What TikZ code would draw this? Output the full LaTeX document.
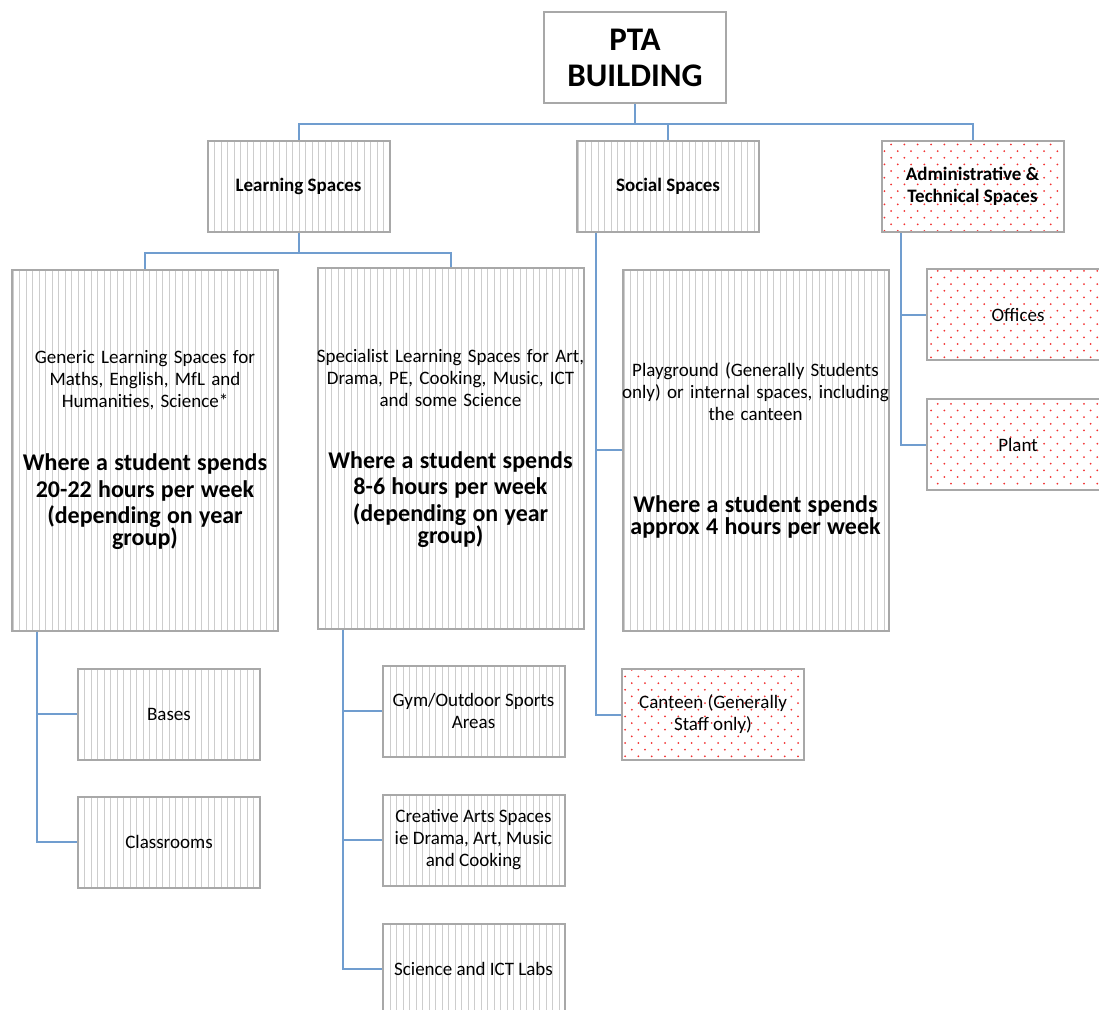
\documentclass[tikz,border=0pt]{standalone}
\usepackage{fontspec}
\setmainfont{Carlito}
\usepackage{tikz}
\usetikzlibrary{positioning,patterns}

\definecolor{linkblue}{RGB}{112,157,207}
\definecolor{boxgray}{RGB}{168,168,168}
\definecolor{stripegray}{RGB}{205,205,205}
\definecolor{dotred}{RGB}{242,50,50}

% thin vertical stripes
\pgfdeclarepatternformonly{gray stripes}{\pgfqpoint{-0.5pt}{0pt}}{\pgfqpoint{6pt}{1pt}}{\pgfqpoint{6.5pt}{1pt}}{%
  \pgfpathrectangle{\pgfqpoint{-0.5pt}{0pt}}{\pgfqpoint{1pt}{1pt}}
  \pgfusepath{fill}}
% staggered red dots
\pgfdeclarepatternformonly{red dots}{\pgfqpoint{-1pt}{-1pt}}{\pgfqpoint{12.3pt}{12.3pt}}{\pgfqpoint{13.3pt}{13.3pt}}{%
  \pgfpathcircle{\pgfqpoint{0pt}{0pt}}{1pt}
  \pgfpathcircle{\pgfqpoint{6.65pt}{6.65pt}}{1pt}
  \pgfusepath{fill}}

\newcommand{\boxfont}{\fontsize{19}{22}\selectfont}
\newcommand{\hourfont}{\fontsize{24}{26.5}\selectfont\bfseries}
\newcommand{\headfont}{\fontsize{33}{36}\selectfont\bfseries}

\begin{document}
\begin{tikzpicture}[x=1pt,y=-1pt,
box/.style={draw=boxgray,line width=2pt,minimum width=182pt,minimum height=91pt,
  align=center,inner sep=2pt,font=\boxfont},
striped/.style={box,pattern=gray stripes,pattern color=stripegray},
dotbox/.style={box,pattern=red dots,pattern color=dotred},
tall/.style={minimum width=266pt,minimum height=361pt,text width=290pt,inner xsep=-12pt},
link/.style={draw=linkblue,line width=2pt}]
\useasboundingbox (0,0) rectangle (1099,1009);
\clip (0,0) rectangle (1099,1009);

% top level
\node (pta) [box,font=\headfont,fill=white] at (635,57.5) {PTA\\BUILDING};
\node (learn) [striped,font=\boxfont\bfseries] at (298.5,186.5) {Learning Spaces};
\node (social) [striped,font=\boxfont\bfseries] at (668,186.5) {Social Spaces};
\node (admin) [dotbox,font=\boxfont\bfseries] at (972.5,186.5) {Administrative \&\\Technical Spaces};

% learning spaces
\node (generic) [striped,tall] at (145,450) {Generic Learning Spaces for\\Maths, English, MfL and\\Humanities, Science*\par
  \vspace{36.5pt}\hourfont Where a student spends\\20-22 hours per week\\(depending on year\\group)};
\node (special) [striped,tall] at (450.5,448) {Specialist Learning Spaces for Art,\\Drama, PE, Cooking, Music, ICT\\and some Science\par
  \vspace{35.5pt}\hourfont Where a student spends\\8-6 hours per week\\(depending on year\\group)};
\node (bases) [striped] at (169,714) {Bases};
\node (classes) [striped,below=35pt of bases] {Classrooms};
\node (gym) [striped] at (473.5,711) {Gym/Outdoor Sports\\Areas};
\node (arts) [striped,below=36pt of gym] {Creative Arts Spaces\\ie Drama, Art, Music\\and Cooking};
\node (labs) [striped,below=36pt of arts] {Science and ICT Labs};

% social spaces
\node (play) [striped,tall] at (755.5,450) {Playground (Generally Students\\only) or internal spaces, including\\the canteen\par
  \vspace{65.5pt}\hourfont Where a student spends\\approx 4 hours per week};
\node (canteen) [dotbox] at (713,714.5) {Canteen (Generally\\Staff only)};

% admin spaces
\node (offices) [dotbox] at (1018,314.5) {Offices};
\node (plant) [dotbox,below=37pt of offices] {Plant};

% connectors
\draw[link] (pta.south) -- ++(0,20) -| (learn.north);
\draw[link] (pta.south) -- ++(0,20) -| (social.north);
\draw[link] (pta.south) -- ++(0,20) -| (admin.north);
\draw[link] (learn.south) -- ++(0,20) -| (generic.north);
\draw[link] (learn.south) -- ++(0,20) -| (special.north);
\draw[link] ([xshift=26pt]generic.south west) |- (bases.west);
\draw[link] ([xshift=26pt]generic.south west) |- (classes.west);
\draw[link] ([xshift=26pt]special.south west) |- (gym.west);
\draw[link] ([xshift=26pt]special.south west) |- (arts.west);
\draw[link] ([xshift=26pt]special.south west) |- (labs.west);
\draw[link] ([xshift=20pt]social.south west) |- (play.west);
\draw[link] ([xshift=20pt]social.south west) |- (canteen.west);
\draw[link] ([xshift=20pt]admin.south west) |- (offices.west);
\draw[link] ([xshift=20pt]admin.south west) |- (plant.west);
\end{tikzpicture}
\end{document}
